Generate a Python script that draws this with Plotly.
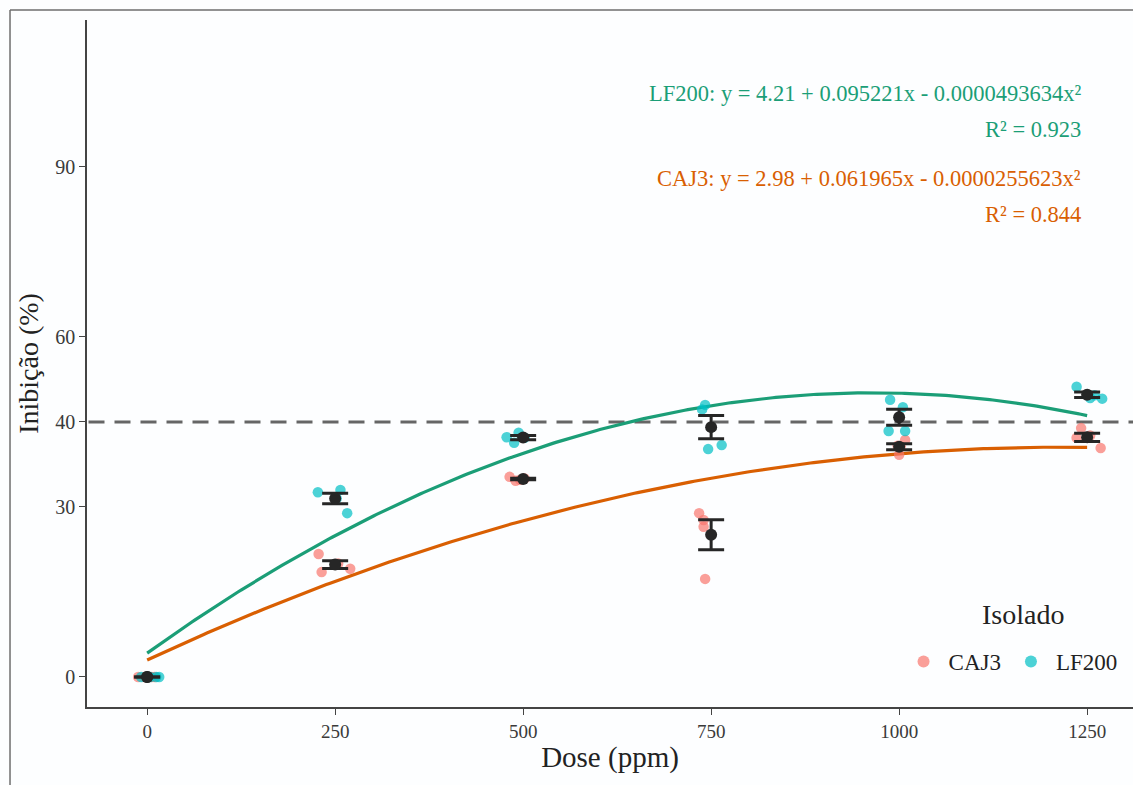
import numpy as np
import plotly.graph_objects as go

doses = [0, 250, 500, 750, 1000, 1250]

lf200_obs = [
    [0.0, 0.0, 0.0, 0.0],
    [32.6, 33.0, 28.9, 31.5],
    [42.3, 41.3, 43.1, 42.2],
    [48.0, 47.2, 40.9, 40.2],
    [48.9, 47.6, 43.4, 43.4],
    [51.2, 49.2, 49.1, 49.7],
]
caj3_obs = [
    [0.0, 0.0, 0.0, 0.0],
    [21.7, 18.5, 19.1, 20.0],
    [35.3, 34.6, 34.8, 35.0],
    [28.9, 27.7, 26.5, 17.3],
    [41.8, 40.6, 40.8, 39.2],
    [43.9, 42.2, 40.4, 42.6],
]
# horizontal jitter of the replicate points (ppm)
lf200_jit = [[-8, 4, 12, 16], [-23, 7, 16, 2], [-22, -12, -6, 2], [-8, -12, 14, -4], [-12, 5, -14, 8], [-14, 4, 20, 10]]
caj3_jit = [[-12, -4, 6, 10], [-22, -18, 20, 4], [-18, -10, -4, 2], [-16, -10, -10, -8], [8, 2, -2, 0], [-8, -14, 18, 4]]

# fitted quadratic models shown on the chart
lf200_coef = (4.21, 0.095221, -0.0000493634)
caj3_coef = (2.98, 0.061965, -0.0000255623)

# reference line level (drawn on the tick labelled "40")
ref_level = 45

c_lf = "#1b9e77"
c_caj = "#d95f02"
pt_lf = "rgba(0,191,196,0.7)"
pt_caj = "rgba(248,118,109,0.7)"
font = "Liberation Serif"

fig = go.Figure()

fig.add_trace(go.Scatter(x=[-78, 1311], y=[ref_level, ref_level], mode="lines",
                         line=dict(color="#666666", width=3, dash="16px,10px"),
                         showlegend=False, hoverinfo="skip"))

xs = np.linspace(0, 1250, 300)
for coef, col in [(lf200_coef, c_lf), (caj3_coef, c_caj)]:
    fig.add_trace(go.Scatter(x=xs, y=coef[0] + coef[1] * xs + coef[2] * xs ** 2,
                             mode="lines", line=dict(color=col, width=3.2),
                             showlegend=False, hoverinfo="skip"))

def pts(obs, jit):
    x, y = [], []
    for d, o, j in zip(doses, obs, jit):
        for v, jj in zip(o, j):
            x.append(d + jj)
            y.append(v)
    return x, y

for name, obs, jit, col in [("CAJ3", caj3_obs, caj3_jit, pt_caj), ("LF200", lf200_obs, lf200_jit, pt_lf)]:
    x, y = pts(obs, jit)
    fig.add_trace(go.Scatter(x=x, y=y, mode="markers", name=name,
                             marker=dict(color=col, size=10.5, line=dict(width=0))))

for obs in [caj3_obs, lf200_obs]:
    arr = np.array(obs)
    m = arr.mean(axis=1)
    se = arr.std(axis=1, ddof=1) / np.sqrt(arr.shape[1])
    fig.add_trace(go.Scatter(x=doses, y=m, mode="markers", showlegend=False,
                             marker=dict(color="#262626", size=12),
                             error_y=dict(type="data", array=se, color="#262626",
                                          thickness=3, width=13)))

# outer frame (left and top edges visible in the picture)
fig.add_shape(type="line", xref="paper", yref="paper", x0=-0.0736, x1=-0.0736, y0=-0.2, y1=1.0146,
              line=dict(color="#6e6e6e", width=1.5), layer="below")
fig.add_shape(type="line", xref="paper", yref="paper", x0=-0.0736, x1=1.2, y0=1.0146, y1=1.0146,
              line=dict(color="#6e6e6e", width=1.5), layer="below")

ann = [
    ("LF200: y = 4.21 + 0.095221x - 0.0000493634x²", 103.0, c_lf),
    ("R² = 0.923", 96.5, c_lf),
    ("CAJ3: y = 2.98 + 0.061965x - 0.0000255623x²", 88.0, c_caj),
    ("R² = 0.844", 81.5, c_caj),
]
for t, yv, col in ann:
    fig.add_annotation(x=1245, y=yv, xref="x", yref="y", text=t, showarrow=False,
                       xanchor="right", yanchor="middle",
                       font=dict(family=font, size=22.5, color=col))

# legend title placed as text above the legend items
fig.add_annotation(x=1165, y=11, xref="x", yref="y", text="Isolado", showarrow=False,
                   xanchor="center", yanchor="middle",
                   font=dict(family=font, size=28, color="#222222"))

fig.update_layout(
    width=1133, height=785,
    margin=dict(l=87, r=0, t=20, b=78),
    paper_bgcolor="#fdfeff", plot_bgcolor="#fdfeff",
    font=dict(family=font, color="#333333"),
    legend=dict(orientation="h", x=0.99, xanchor="right", y=0.035, yanchor="bottom",
                font=dict(size=23, color="#222222"), bgcolor="rgba(0,0,0,0)",
                itemsizing="constant", itemwidth=40),
    xaxis=dict(range=[-80, 1311], tickvals=doses, ticktext=[str(d) for d in doses],
               showgrid=False, zeroline=False, showline=True, linecolor="#444444", linewidth=1.5,
               ticks="outside", ticklen=6, tickcolor="#444444",
               tickfont=dict(size=19, color="#3a3a3a"),
               title=dict(text="Dose (ppm)", font=dict(size=29, color="#222222"), standoff=6)),
    yaxis=dict(range=[-5.3, 115.9], tickvals=[0, 30, 45, 60, 90], ticktext=["0", "30", "40", "60", "90"],
               showgrid=False, zeroline=False, showline=True, linecolor="#444444", linewidth=1.5,
               ticks="outside", ticklen=6, tickcolor="#444444",
               tickfont=dict(size=20, color="#3a3a3a"),
               title=dict(text="Inibição (%)", font=dict(size=28, color="#222222"), standoff=8)),
)

fig.write_html("out.html", config={"displayModeBar": False},
               post_script="document.body.style.margin='0';document.body.style.overflow='hidden';")
